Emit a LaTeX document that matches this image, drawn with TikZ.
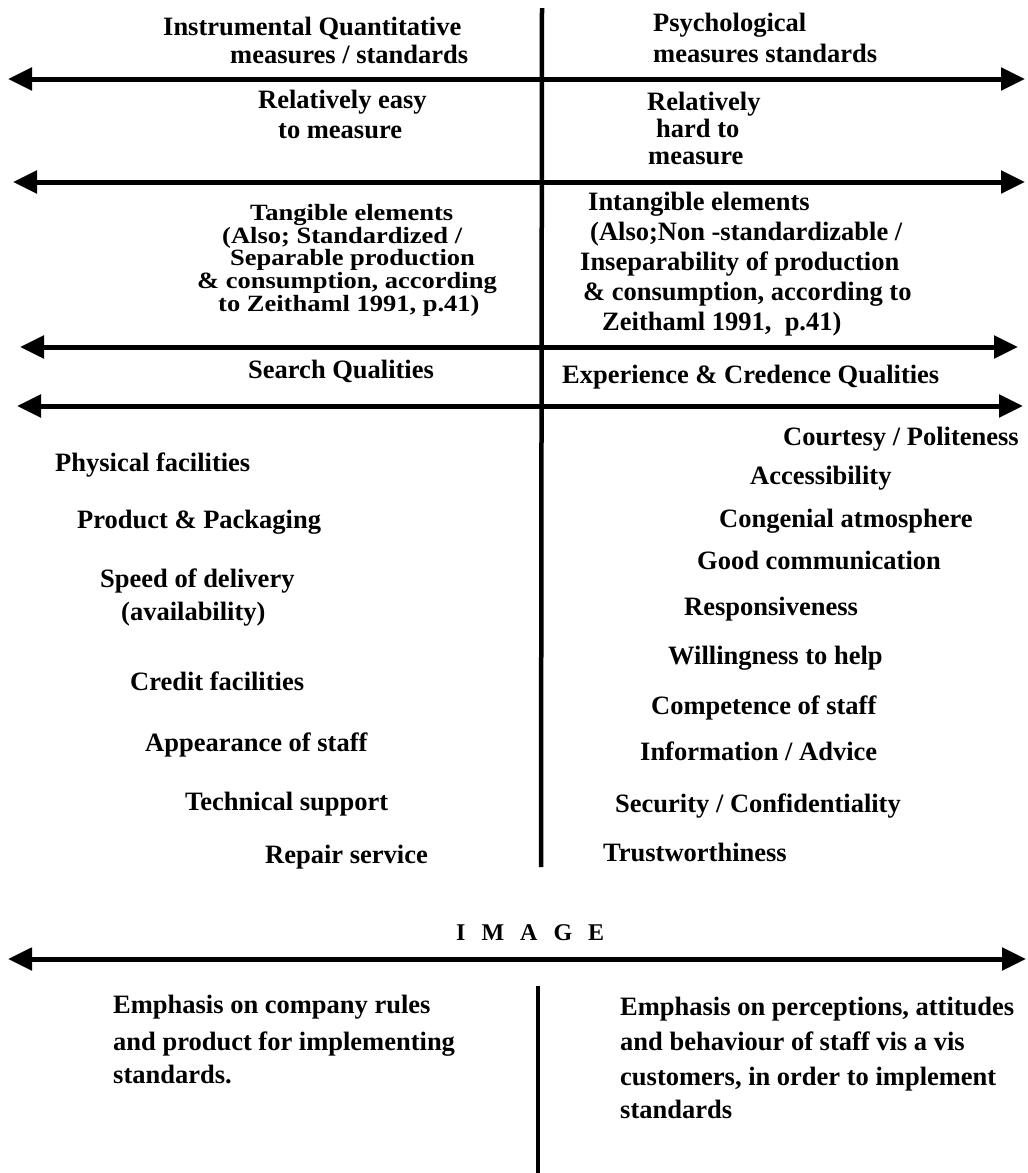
\documentclass[tikz,border=0pt]{standalone}
\usepackage{fontspec}
\setmainfont{Liberation Serif}
\usetikzlibrary{arrows.meta}
% lines of a block whose lines stand close together
\newcommand{\squat}[1]{\scalebox{1}[0.88]{#1}}
\begin{document}
\begin{tikzpicture}[x=1pt,y=-1pt,
  txt/.style={font=\bfseries\fontsize{26.5}{30}\selectfont, inner sep=0pt, anchor=base west},
  axis/.style={line width=5pt,
    {Triangle[length=24pt,width=22pt]}-{Triangle[length=24pt,width=22pt]}},
  divider/.style={line width=4.5pt}]
\useasboundingbox (0,0) rectangle (1028,1173);

% ---- axis ends and divider ends ----
\coordinate (a1l) at (8,79);    \coordinate (a1r) at (1025,79);
\coordinate (a2l) at (13,182);  \coordinate (a2r) at (1025,182);
\coordinate (a3l) at (20,347);  \coordinate (a3r) at (1018,347);
\coordinate (a4l) at (17,406);  \coordinate (a4r) at (1023,406);
\coordinate (a5l) at (8,959);   \coordinate (a5r) at (1026,959);
\coordinate (vtop) at (542,8);  \coordinate (vbot) at (541,867);
\coordinate (wtop) at (538,986); \coordinate (wbot) at (538,1173);

\draw[divider] (vtop) -- (vbot);
\draw[divider] (wtop) -- (wbot);
\foreach \k in {1,...,5} \draw[axis] (a\k l) -- (a\k r);

% ---- row 1 ----
\node[txt] (iq1) at (163,35) {Instrumental Quantitative};
\node[txt] (iq2) at (230,63) {measures / standards};
\node[txt] (ps1) at (653,31) {Psychological};
\node[txt] (ps2) at (653,62) {measures standards};

% ---- row 2 ----
\node[txt] (ez1) at (258,108) {Relatively easy};
\node[txt] (ez2) at (278,138) {to measure};
\node[txt] (hd1) at (647,110) {Relatively};
\node[txt] (hd2) at (656,137) {hard to};
\node[txt] (hd3) at (648,164) {measure};

% ---- row 3 ----
\node[txt] (tg1) at (250,220) {\squat{Tangible elements}};
\node[txt] (tg2) at (222,243) {\squat{(Also; Standardized /}};
\node[txt] (tg3) at (230,265) {\squat{Separable production}};
\node[txt] (tg4) at (197,288) {\squat{\& consumption, according}};
\node[txt] (tg5) at (218,311) {\squat{to Zeithaml 1991, p.41)}};
\node[txt] (it1) at (588,210) {Intangible elements};
\node[txt] (it2) at (590,240) {(Also;Non -standardizable /};
\node[txt] (it3) at (580,270) {Inseparability of production};
\node[txt] (it4) at (583,300) {\& consumption, according to};
\node[txt] (it5) at (602,330) {Zeithaml 1991,\ \ p.41)};

% ---- row 4 ----
\node[txt] (sq) at (248,378) {Search Qualities};
\node[txt] (ec) at (562,383) {Experience \& Credence Qualities};

% ---- left list ----
\node[txt] (l1) at (55,471)  {Physical facilities};
\node[txt] (l2) at (77,528)  {Product \& Packaging};
\node[txt] (l3) at (100,587) {Speed of delivery};
\node[txt] (l3b) at (121,620) {(availability)};
\node[txt] (l4) at (130,690) {Credit facilities};
\node[txt] (l5) at (145,751) {Appearance of staff};
\node[txt] (l6) at (185,810) {Technical support};
\node[txt] (l7) at (265,863) {Repair service};

% ---- right list ----
\node[txt] (r1) at (783,445)  {Courtesy / Politeness};
\node[txt] (r2) at (750,484)  {Accessibility};
\node[txt] (r3) at (719,527)  {Congenial atmosphere};
\node[txt] (r4) at (697,569)  {Good communication};
\node[txt] (r5) at (684,615)  {Responsiveness};
\node[txt] (r6) at (668,664)  {Willingness to help};
\node[txt] (r7) at (651,714)  {Competence of staff};
\node[txt] (r8) at (640,760)  {Information / Advice};
\node[txt] (r9) at (615,812)  {Security / Confidentiality};
\node[txt] (r10) at (603,861) {Trustworthiness};

% ---- image ----
\node[txt, font=\bfseries\fontsize{24}{28}\selectfont] (img) at (456,940)
  {I\hspace{16pt}M\hspace{16pt}A\hspace{16pt}G\hspace{16pt}E};

% ---- bottom blocks ----
\node[txt] (b1) at (113,1013) {Emphasis on company rules};
\node[txt] (b2) at (113,1050) {and product for implementing};
\node[txt] (b3) at (113,1083) {standards.};
\node[txt] (c1) at (620,1015) {Emphasis on perceptions, attitudes};
\node[txt] (c2) at (620,1050) {and behaviour of staff vis a vis};
\node[txt] (c3) at (620,1085) {customers, in order to implement};
\node[txt] (c4) at (620,1118) {standards};
\end{tikzpicture}
\end{document}
